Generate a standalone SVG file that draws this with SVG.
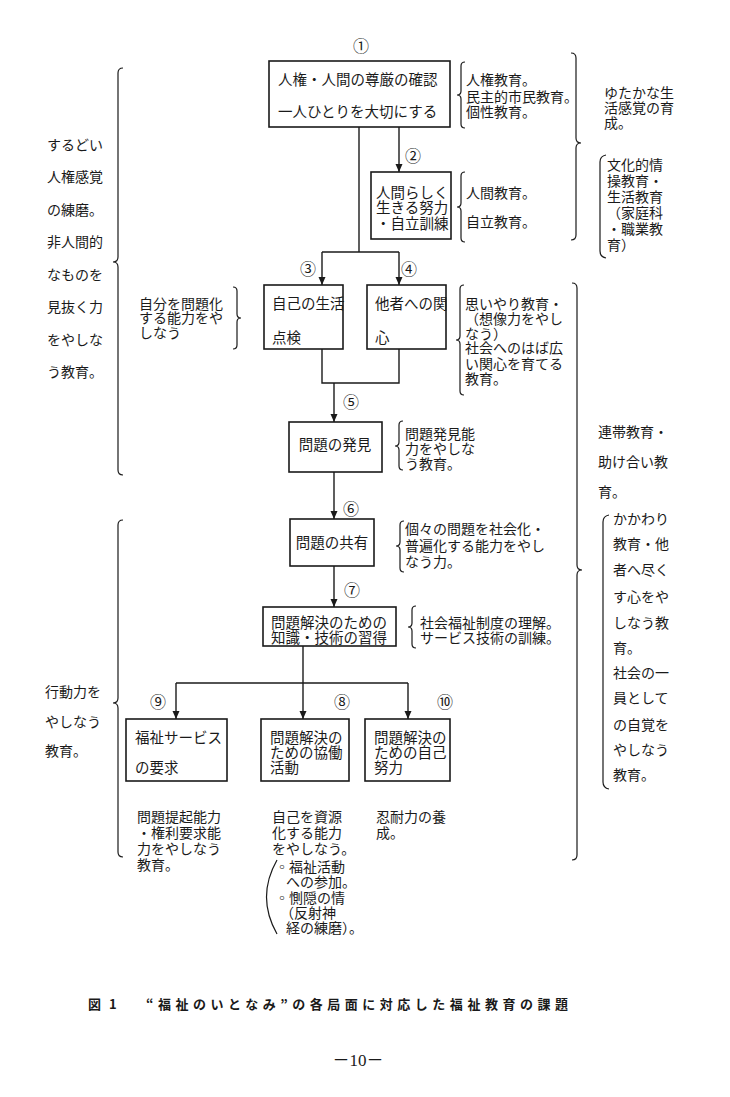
<svg xmlns="http://www.w3.org/2000/svg" width="730" height="1097" viewBox="0 0 730 1097">
<defs>
<marker id="ah" viewBox="0 0 8 10" refX="8" refY="5" markerWidth="8" markerHeight="10" markerUnits="userSpaceOnUse" orient="auto">
<path d="M0,1.5 L8,5 L0,8.5 Z" fill="#1a1a1a"/>
</marker>
<style>
text{font-family:"Noto Sans CJK JP","Noto Sans CJK SC",sans-serif;font-size:14.5px;fill:#1a1a1a}
.s{font-size:14px}
.n{font-size:16px;text-anchor:middle}
.box{fill:#fff;stroke:#1a1a1a;stroke-width:1.6}
.ln{fill:none;stroke:#1a1a1a;stroke-width:1.4}
.br{fill:none;stroke:#1a1a1a;stroke-width:1.2}
.cap{font-size:13px;font-weight:bold}
.pg{font-family:"Liberation Serif","Noto Sans CJK JP",serif;font-size:17px;text-anchor:middle}
</style>
</defs>
<rect width="730" height="1097" fill="#fff"/>

<g id="connectors">
<path class="ln" d="M359,127 V252"/>
<path class="ln" d="M322,252 H399"/>
<path class="ln" d="M399,127 V172" marker-end="url(#ah)"/>
<path class="ln" d="M322,252 V285" marker-end="url(#ah)"/>
<path class="ln" d="M399,252 V285" marker-end="url(#ah)"/>
<path class="ln" d="M322,349 V383 H399 V349"/>
<path class="ln" d="M334,383 V422" marker-end="url(#ah)"/>
<path class="ln" d="M334,472 V519" marker-end="url(#ah)"/>
<path class="ln" d="M334,566 V607" marker-end="url(#ah)"/>
<path class="ln" d="M303,646 V719" marker-end="url(#ah)"/>
<path class="ln" d="M176,683 H408"/>
<path class="ln" d="M176,683 V719" marker-end="url(#ah)"/>
<path class="ln" d="M408,683 V719" marker-end="url(#ah)"/>
</g>

<g id="braces">
<path class="br" d="M123,68 Q118,68 118,73 L118,257 Q118,262 113,262 Q118,262 118,267 L118,470 Q118,475 123,475"/>
<path class="br" d="M123,520 Q118,520 118,525 L118,698 Q118,703 113,703 Q118,703 118,708 L118,852 Q118,857 123,857"/>
<path class="br" d="M465,62 Q461,62 461,66 L461,91 Q461,95 457,95 Q461,95 461,99 L461,124 Q461,128 465,128"/>
<path class="br" d="M465,172 Q461,172 461,176 L461,203 Q461,207 457,207 Q461,207 461,211 L461,238 Q461,242 465,242"/>
<path class="br" d="M571,53 Q576,53 576,58 L576,138 Q576,143 581,143 Q576,143 576,148 L576,235 Q576,240 571,240"/>
<path class="br" d="M606,155 Q600,156 600,162 L600,251 Q600,257 606,258"/>
<path class="br" d="M233,287 Q237,287 237,291 L237,314 Q237,318 241,318 Q237,318 237,322 L237,345 Q237,349 233,349"/>
<path class="br" d="M464,285 Q460,285 460,289 L460,336 Q460,340 456,340 Q460,340 460,344 L460,391 Q460,395 464,395"/>
<path class="br" d="M572,283 Q577,283 577,288 L577,565 Q577,570 582,570 Q577,570 577,575 L577,855 Q577,860 572,860"/>
<path class="br" d="M403,421 Q399,421 399,425 L399,442 Q399,446 395,446 Q399,446 399,450 L399,466 Q399,470 403,470"/>
<path class="br" d="M404,521 Q400,521 400,525 L400,542 Q400,546 396,546 Q400,546 400,550 L400,568 Q400,572 404,572"/>
<path class="br" d="M416,606 Q412,606 412,610 L412,623 Q412,627 408,627 Q412,627 412,631 L412,644 Q412,648 416,648"/>
<path class="br" d="M609,515 Q603,516 603,522 L603,782 Q603,788 609,789"/>
<path class="br" d="M277,860 Q256,897 277,934"/>
</g>

<g id="n1">
<rect class="box" x="269" y="61" width="181" height="66"/>
<text x="278" y="85" font-size="15">人権・人間の尊厳の確認</text>
<text x="278" y="117" font-size="15">一人ひとりを大切にする</text>
<text class="n" x="361" y="52">①</text>
</g>
<g id="n2">
<rect class="box" x="371" y="172" width="80" height="67"/>
<text x="376" y="198" font-size="14">人間らしく</text>
<text x="376" y="213" font-size="14">生きる努力</text>
<text x="376" y="229" font-size="14">・自立訓練</text>
<text class="n" x="413" y="162">②</text>
</g>
<g id="n3">
<rect class="box" x="264" y="285" width="79" height="64"/>
<text x="272" y="309">自己の生活</text>
<text x="272" y="343">点検</text>
<text class="n" x="308" y="275">③</text>
</g>
<g id="n4">
<rect class="box" x="367" y="285" width="79" height="64"/>
<text x="375" y="309">他者への関</text>
<text x="375" y="343">心</text>
<text class="n" x="409" y="275">④</text>
</g>
<g id="n5">
<rect class="box" x="289" y="422" width="93" height="50"/>
<text x="335" y="450" text-anchor="middle">問題の発見</text>
<text class="n" x="351" y="408">⑤</text>
</g>
<g id="n6">
<rect class="box" x="290" y="519" width="84" height="47"/>
<text x="332" y="548" text-anchor="middle">問題の共有</text>
<text class="n" x="351" y="515">⑥</text>
</g>
<g id="n7">
<rect class="box" x="263" y="607" width="133" height="39"/>
<text x="329" y="628" text-anchor="middle">問題解決のための</text>
<text x="329" y="643" text-anchor="middle">知識・技術の習得</text>
<text class="n" x="352" y="596">⑦</text>
</g>
<g id="n9">
<rect class="box" x="126" y="719" width="101" height="62"/>
<text x="135" y="743">福祉サービス</text>
<text x="135" y="773">の要求</text>
<text class="n" x="158" y="708">⑨</text>
</g>
<g id="n8">
<rect class="box" x="261" y="719" width="88" height="62"/>
<text x="270" y="743">問題解決の</text>
<text x="270" y="758">ための協働</text>
<text x="270" y="773">活動</text>
<text class="n" x="342" y="708">⑧</text>
</g>
<g id="n10">
<rect class="box" x="365" y="719" width="85" height="62"/>
<text x="374" y="743">問題解決の</text>
<text x="374" y="758">ための自己</text>
<text x="374" y="773">努力</text>
<text class="n" x="445" y="708">⑩</text>
</g>

<g id="notes">
<text class="s" x="466" y="85">人権教育。</text>
<text class="s" x="466" y="102">民主的市民教育。</text>
<text class="s" x="466" y="117">個性教育。</text>
<text class="s" x="466" y="198">人間教育。</text>
<text class="s" x="466" y="227">自立教育。</text>
<text class="s" x="604" y="98">ゆたかな生</text>
<text class="s" x="604" y="113">活感覚の育</text>
<text class="s" x="604" y="128">成。</text>
<text class="s" x="607" y="170">文化的情</text>
<text class="s" x="607" y="186">操教育・</text>
<text class="s" x="607" y="202">生活教育</text>
<text class="s" x="607" y="218">（家庭科</text>
<text class="s" x="607" y="234">・職業教</text>
<text class="s" x="607" y="250">育）</text>
<text class="s" x="47" y="150">するどい</text>
<text class="s" x="47" y="182">人権感覚</text>
<text class="s" x="47" y="215">の練磨。</text>
<text class="s" x="47" y="247">非人間的</text>
<text class="s" x="47" y="280">なものを</text>
<text class="s" x="47" y="312">見抜く力</text>
<text class="s" x="47" y="345">をやしな</text>
<text class="s" x="47" y="377">う教育。</text>
<text class="s" x="139" y="309">自分を問題化</text>
<text class="s" x="139" y="323">する能力をや</text>
<text class="s" x="139" y="338">しなう</text>
<text class="s" x="465" y="309">思いやり教育・</text>
<text class="s" x="465" y="324">（想像力をやし</text>
<text class="s" x="465" y="339">なう）</text>
<text class="s" x="465" y="353">社会へのはば広</text>
<text class="s" x="465" y="369">い関心を育てる</text>
<text class="s" x="465" y="384">教育。</text>
<text class="s" x="405" y="439">問題発見能</text>
<text class="s" x="405" y="454">力をやしな</text>
<text class="s" x="405" y="469">う教育。</text>
<text class="s" x="598" y="437">連帯教育・</text>
<text class="s" x="598" y="467">助け合い教</text>
<text class="s" x="598" y="497">育。</text>
<text class="s" x="405" y="534">個々の問題を社会化・</text>
<text class="s" x="405" y="551">普遍化する能力をやし</text>
<text class="s" x="405" y="567">なう力。</text>
<text class="s" x="420" y="628">社会福祉制度の理解。</text>
<text class="s" x="420" y="643">サービス技術の訓練。</text>
<text class="s" x="613" y="524">かかわり</text>
<text class="s" x="613" y="549">教育・他</text>
<text class="s" x="613" y="575">者へ尽く</text>
<text class="s" x="613" y="602">す心をや</text>
<text class="s" x="613" y="628">しなう教</text>
<text class="s" x="613" y="653">育。</text>
<text class="s" x="613" y="678">社会の一</text>
<text class="s" x="613" y="703">員として</text>
<text class="s" x="613" y="730">の自覚を</text>
<text class="s" x="613" y="755">やしなう</text>
<text class="s" x="613" y="780">教育。</text>
<text class="s" x="45" y="697">行動力を</text>
<text class="s" x="45" y="727">やしなう</text>
<text class="s" x="45" y="756">教育。</text>
<text class="s" x="137" y="822">問題提起能力</text>
<text class="s" x="137" y="838">・権利要求能</text>
<text class="s" x="137" y="854">力をやしなう</text>
<text class="s" x="137" y="870">教育。</text>
<text class="s" x="272" y="822">自己を資源</text>
<text class="s" x="272" y="838">化する能力</text>
<text class="s" x="272" y="854">をやしなう。</text>
<text class="s" x="275" y="872">◦福祉活動</text>
<text class="s" x="286" y="887">への参加。</text>
<text class="s" x="275" y="903">◦惻隠の情</text>
<text class="s" x="280" y="918">（反射神</text>
<text class="s" x="286" y="933">経の練磨）。</text>
<text class="s" x="376" y="822">忍耐力の養</text>
<text class="s" x="376" y="838">成。</text>
</g>

<g id="caption">
<text class="cap" x="88" y="1009">図</text>
<text class="cap" x="109" y="1009">1</text>
<text class="cap" x="146" y="1009" textLength="422" lengthAdjust="spacing">“福祉のいとなみ”の各局面に対応した福祉教育の課題</text>
<text class="pg" x="358" y="1066">－10－</text>
</g>
</svg>
